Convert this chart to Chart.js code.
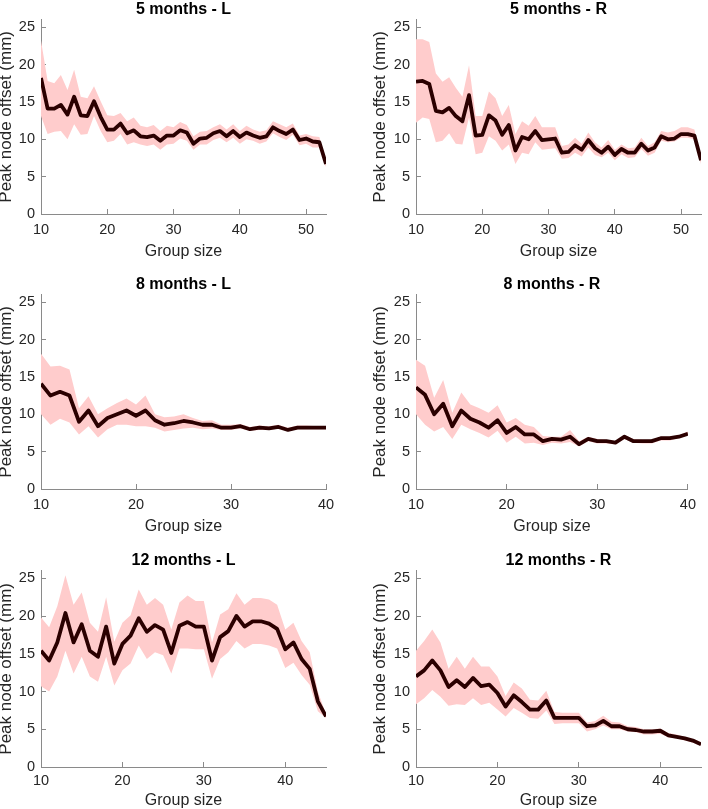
<!DOCTYPE html>
<html><head><meta charset="utf-8">
<script src="https://cdn.jsdelivr.net/npm/chart.js@4.4.1/dist/chart.umd.min.js"></script>
<style>
html,body{margin:0;padding:0;background:#fff;}
#wrap{position:relative;width:708px;height:809px;overflow:hidden;}
#wrap canvas{position:absolute;}
</style></head><body><div id="wrap"></div>
<script>
// ---- data ----
const sizes53 = [10,11,12,13,14,15,16,17,18,19,20,21,22,23,24,25,26,27,28,29,30,31,32,33,34,35,36,37,38,39,40,41,42,43,44,45,46,47,48,49,50,51,52,53];
const sizes40 = [10,11,12,13,14,15,16,17,18,19,20,21,22,23,24,25,26,27,28,29,30,31,32,33,34,35,36,37,38,39,40];
const sizes45 = [10,11,12,13,14,15,16,17,18,19,20,21,22,23,24,25,26,27,28,29,30,31,32,33,34,35,36,37,38,39,40,41,42,43,44,45];

const m5L_mean  = [18.2,14.1,14.1,14.6,13.3,15.7,13.2,13.1,15.1,13.0, 11.3,11.3,12.1,10.8,11.2,10.4,10.3,10.5,9.8,10.5, 10.5,11.2,10.9,9.4,10.1,10.2,10.8,11.1,10.4,11.1, 10.3,10.9,10.5,10.2,10.4,11.6,11.1,10.7,11.3,9.9, 10.1,9.7,9.6,6.7];
const m5L_upper = [23.2,17.8,17.5,18.6,16.6,19.3,15.7,15.5,17.1,15.1, 13.2,13.1,13.5,12.4,12.9,11.8,11.6,11.9,11.1,11.8, 11.6,12.3,11.9,10.4,11.0,11.1,11.6,12.0,11.3,12.0, 11.1,11.8,11.3,11.0,11.2,12.4,12.0,11.6,12.1,10.5, 10.7,10.4,10.3,7.1];
const m5L_lower = [13.1,10.7,11.0,11.1,10.0,12.0,10.6,10.7,13.1,11.1, 9.6,9.8,10.7,9.3,9.6,9.3,9.1,9.3,8.6,9.3, 9.4,10.1,9.8,8.6,9.3,9.3,9.9,10.2,9.6,10.2, 9.4,10.0,9.8,9.4,9.7,10.8,10.3,9.9,10.6,9.2, 9.4,8.9,8.9,6.3];

const m5R_mean  = [17.7,17.8,17.4,13.8,13.6,14.2,13.1,12.4,15.9,10.5, 10.6,13.2,12.5,10.6,11.9,8.5,10.3,10.0,11.1,9.9, 10.0,10.1,8.2,8.3,9.2,8.6,9.9,8.8,8.2,9.0, 7.9,8.7,8.2,8.2,9.4,8.5,8.9,10.4,10.0,10.1, 10.7,10.7,10.5,7.2];
const m5R_upper = [23.4,23.4,23.0,18.8,17.7,18.3,16.9,15.7,19.9,13.1, 13.1,16.4,15.5,13.1,14.6,10.7,12.4,11.8,13.1,11.6, 11.6,11.6,9.1,9.3,10.2,9.4,10.9,9.6,8.9,9.9, 8.6,9.3,8.8,8.9,10.2,9.1,9.6,11.1,10.9,11.1, 11.6,11.6,11.3,7.8];
const m5R_lower = [12.2,12.9,12.7,9.6,9.8,10.8,9.4,9.3,12.9,8.0, 8.2,10.4,9.8,8.5,9.3,6.7,8.2,8.0,9.6,8.6, 8.7,8.8,7.4,7.5,8.2,7.7,8.9,7.9,7.6,8.2, 7.2,8.0,7.5,7.6,8.7,7.8,8.2,9.8,9.6,9.7, 10.2,10.2,10.0,6.7];

const m8L_mean  = [14.1,12.5,13.0,12.5,9.0,10.5,8.4,9.5,10.0,10.5, 9.8,10.5,9.2,8.6,8.8,9.1,8.9,8.6,8.6,8.2, 8.2,8.4,8.0,8.2,8.1,8.3,7.9,8.2,8.2,8.2, 8.2];
const m8L_upper = [18.1,16.4,16.5,16.0,10.8,12.4,10.0,10.8,11.5,12.1, 11.3,12.5,10.0,9.6,9.7,10.0,9.5,9.1,9.2,8.6, 8.6,8.7,8.3,8.5,8.4,8.6,8.2,8.5,8.5,8.4, 8.4];
const m8L_lower = [10.0,8.6,9.4,8.9,7.3,8.4,6.9,8.0,8.6,8.6, 8.4,8.4,8.2,7.7,7.9,8.1,8.2,8.0,8.1,7.9, 7.9,8.1,7.8,7.9,7.9,8.1,7.8,8.0,8.0,8.0, 8.0];

const m8R_mean  = [13.6,12.6,10.0,11.4,8.4,10.5,9.4,8.9,8.2,9.2, 7.5,8.3,7.3,7.3,6.4,6.7,6.6,7.0,6.0,6.7, 6.4,6.4,6.2,7.0,6.4,6.4,6.4,6.8,6.8,7.0, 7.4];
const m8R_upper = [17.3,16.5,12.2,14.6,10.2,12.9,11.3,10.8,10.2,11.2, 8.9,9.5,8.6,8.3,7.1,7.0,7.0,7.9,6.4,7.0, 6.7,6.6,6.4,7.2,6.7,6.6,6.6,7.0,7.0,7.2, 7.7];
const m8R_lower = [10.0,8.6,7.7,8.3,6.7,8.6,8.0,7.5,6.9,7.8, 6.2,7.0,6.1,6.2,5.9,6.2,6.1,6.3,5.7,6.4, 6.1,6.1,6.0,6.7,6.2,6.1,6.1,6.5,6.5,6.8, 7.2];

const m12L_mean  = [15.4,14.1,16.5,20.4,16.5,18.9,15.4,14.6,18.6,13.7, 16.3,17.4,19.7,17.9,18.8,18.2,15.1,18.7,19.2,18.6, 18.6,14.1,17.2,18.0,20.0,18.6,19.3,19.3,19.0,18.3, 15.6,16.5,14.3,13.0,8.7,6.7];
const m12L_upper = [19.8,18.5,21.3,25.4,21.5,23.1,19.1,17.9,22.5,16.6, 19.1,20.1,23.5,21.5,22.4,21.5,18.2,21.8,22.7,22.0, 22.0,16.5,20.2,20.9,23.0,21.5,22.4,22.4,22.2,21.5, 18.2,19.1,16.7,15.2,10.0,7.0];
const m12L_lower = [10.7,10.0,12.0,15.4,12.4,14.6,12.0,11.3,14.6,10.8, 12.8,13.7,16.1,14.3,15.2,14.8,12.4,15.7,15.7,15.6, 15.6,11.7,14.3,15.2,16.7,15.7,16.3,16.3,16.1,15.7, 13.1,13.8,12.2,10.9,7.4,6.5];

const m12R_mean  = [12.0,12.8,14.1,12.8,10.6,11.5,10.6,11.8,10.7,10.9, 9.8,8.0,9.5,8.6,7.6,7.6,8.8,6.5,6.5,6.5, 6.5,5.4,5.5,6.1,5.4,5.4,5.0,4.9,4.7,4.7, 4.8,4.2,4.0,3.8,3.5,3.0];
const m12R_upper = [15.4,16.7,18.2,16.5,13.0,14.6,13.0,14.6,13.3,13.3, 12.0,9.4,11.2,10.4,8.9,8.8,10.1,7.3,7.2,7.2, 7.2,5.9,6.1,6.8,6.0,5.9,5.4,5.3,5.0,5.0, 5.1,4.5,4.3,4.0,3.7,3.3];
const m12R_lower = [8.3,9.1,10.2,9.3,8.1,8.3,8.2,9.1,8.2,8.5, 7.6,6.7,7.8,7.2,6.5,6.4,7.5,5.7,5.8,5.8, 5.8,4.7,5.0,5.5,5.0,5.0,4.7,4.6,4.3,4.3, 4.4,3.9,3.8,3.5,3.2,2.8];

const titles = ['5 months - L','5 months - R','8 months - L','8 months - R','12 months - L','12 months - R'];
const xLabel = 'Group size';
const yLabel = 'Peak node offset (mm)';
const yTicks = [0,5,10,15,20,25];
const xTicks = [10,20,30,40,50];

// ---- panel table ----
const panels = [
  {title:titles[0], xs:sizes53, mean:m5L_mean,  up:m5L_upper,  lo:m5L_lower,  xmax:53, row:0, col:0},
  {title:titles[1], xs:sizes53, mean:m5R_mean,  up:m5R_upper,  lo:m5R_lower,  xmax:53, row:0, col:1},
  {title:titles[2], xs:sizes40, mean:m8L_mean,  up:m8L_upper,  lo:m8L_lower,  xmax:40, row:1, col:0},
  {title:titles[3], xs:sizes40, mean:m8R_mean,  up:m8R_upper,  lo:m8R_lower,  xmax:40, row:1, col:1},
  {title:titles[4], xs:sizes45, mean:m12L_mean, up:m12L_upper, lo:m12L_lower, xmax:45, row:2, col:0},
  {title:titles[5], xs:sizes45, mean:m12R_mean, up:m12R_upper, lo:m12R_lower, xmax:45, row:2, col:1}
];

const rows = [
  {plotTop:17,  plotH:197, xH:47, tickPad:12},
  {plotTop:292, plotH:197, xH:47, tickPad:12},
  {plotTop:568, plotH:199, xH:43, tickPad:10}
];
const cols = [{left:0, yW:41, padR:28, yTitlePad:0},{left:354, yW:62, padR:7, yTitlePad:20}];
const TITLE_H = 17, CW = 354;

const FONT = "'Liberation Sans', Arial, Helvetica, sans-serif";
const AXIS_COL = '#8a8a8a';
const TEXT_COL = '#262626';
const LINE_COL = '#2b0000';
const FILL_COL = '#ffcccc';

const wrap = document.getElementById('wrap');

panels.forEach(p => {
  const r = rows[p.row], c = cols[p.col];
  const cv = document.createElement('canvas');
  const H = TITLE_H + r.plotH + r.xH;
  cv.width = CW; cv.height = H;
  cv.style.left = c.left + 'px';
  cv.style.top = (r.plotTop - TITLE_H) + 'px';
  cv.style.width = CW + 'px'; cv.style.height = H + 'px';
  wrap.appendChild(cv);

  const pts = arr => p.xs.map((x, i) => ({x: x, y: arr[i]}));

  new Chart(cv.getContext('2d'), {
    type: 'line',
    data: {
      datasets: [
        {data: pts(p.mean), borderColor: LINE_COL, borderWidth: 3.8, pointRadius: 0, fill: false, order: 0, tension: 0, borderJoinStyle: 'round', borderCapStyle: 'butt'},
        {data: pts(p.up), borderColor: 'rgba(0,0,0,0)', borderWidth: 0, backgroundColor: FILL_COL, pointRadius: 0, fill: '+1', order: 1, tension: 0},
        {data: pts(p.lo), borderColor: 'rgba(0,0,0,0)', borderWidth: 0, pointRadius: 0, fill: false, order: 2, tension: 0}
      ]
    },
    options: {
      responsive: false,
      animation: false,
      devicePixelRatio: 1,
      events: [],
      layout: {padding: {left: 0, right: c.padR, top: 0, bottom: 0}},
      plugins: {
        legend: {display: false},
        tooltip: {enabled: false},
        title: {
          display: true, text: p.title, fullSize: false, color: '#000',
          font: {family: FONT, size: 16, weight: 'bold', lineHeight: 0.8},
          padding: {top: 0, bottom: 4.2}
        }
      },
      scales: {
        x: {
          type: 'linear', min: 10, max: p.xmax,
          afterFit: s => { s.height = r.xH; },
          afterBuildTicks: s => { s.ticks = xTicks.filter(v => v <= p.xmax).map(v => ({value: v})); },
          grid: {drawOnChartArea: false, drawTicks: true, tickLength: -5, color: AXIS_COL, lineWidth: 1},
          border: {display: true, color: AXIS_COL, width: 1},
          ticks: {color: TEXT_COL, font: {family: FONT, size: 14.5}, padding: r.tickPad, maxRotation: 0, autoSkip: false},
          title: {display: true, text: xLabel, color: TEXT_COL, font: {family: FONT, size: 16, lineHeight: 1}, padding: {top: 0, bottom: 1}}
        },
        y: {
          type: 'linear', min: 0, max: 26,
          afterFit: s => { s.width = c.yW; },
          afterBuildTicks: s => { s.ticks = yTicks.map(v => ({value: v})); },
          grid: {drawOnChartArea: false, drawTicks: true, tickLength: -5, color: AXIS_COL, lineWidth: 1},
          border: {display: true, color: AXIS_COL, width: 1},
          ticks: {color: TEXT_COL, font: {family: FONT, size: 14.5}, padding: 11, autoSkip: false},
          title: {display: true, text: yLabel, color: TEXT_COL, font: {family: FONT, size: 17, lineHeight: 0.75}, padding: {top: c.yTitlePad, bottom: 0}}
        }
      }
    }
  });
});
</script>
</body></html>
